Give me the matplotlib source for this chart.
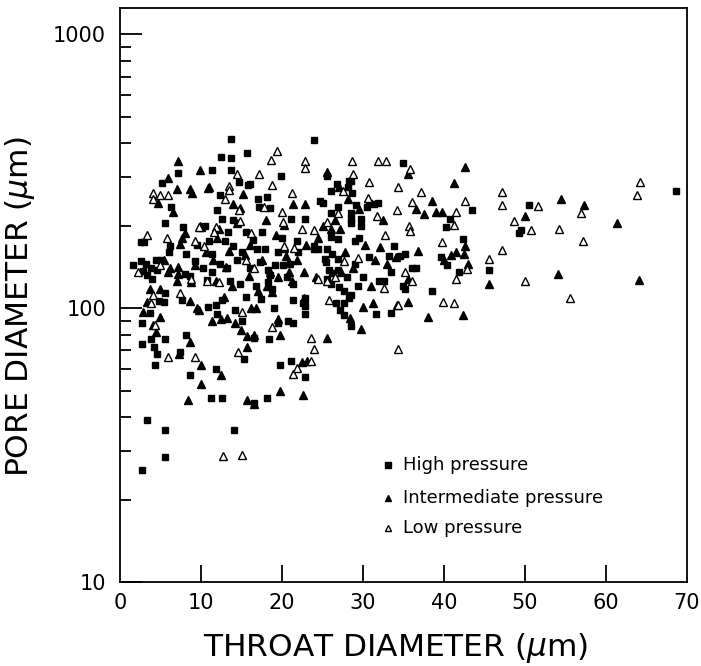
import matplotlib
matplotlib.use("Agg")
import matplotlib.pyplot as plt
from matplotlib.ticker import LogLocator, NullFormatter

# throat diameter (um) / pore diameter (um)
high_x = [2.6, 3.0, 1.6, 2.6, 3.2, 3.8, 4.5, 5.0, 3.3, 3.9, 2.9, 4.6, 3.7, 2.7, 2.7, 3.8, 4.2, 4.6,
          4.3, 5.5, 5.6, 5.4, 4.8, 3.3, 5.6, 5.5, 2.7, 5.6, 5.2, 7.1, 6.3, 7.8, 8.2, 8.0, 8.6, 7.6,
          8.2, 8.7, 7.4, 6.0, 6.2, 9.2, 9.5, 10.7, 10.2,
          11.4, 12.5, 13.7, 13.7, 13.7, 15.7, 14.7, 15.8, 12.4, 12.0, 12.6, 11.4, 11.4, 10.9, 11.8,
          12.6, 11.8, 11.2, 12.6, 14.1, 15.3, 16.5, 18.4, 18.1, 16.5, 19.7, 21.1, 21.4, 20.8, 19.5,
          22.8, 22.8, 22.8, 22.9, 21.4, 19.9, 16.0, 17.0, 18.1, 18.5, 17.1, 21.1, 22.8, 16.4, 16.9,
          17.9, 17.3, 18.3, 19.1, 20.1, 18.5, 18.3, 18.8, 21.4, 22.6, 13.0, 14.0, 14.5, 13.2,
          12.3, 13.6, 14.8, 15.5, 14.2, 15.0, 16.0, 15.5, 14.0, 13.3, 15.0, 17.5, 20.0, 19.5, 21.0,
          20.6, 22.0, 21.8, 16.8, 17.4, 19.0, 12.0, 11.0, 10.5,
          24.0, 24.7, 25.6, 26.8, 26.0, 28.3, 28.1, 28.5, 28.7, 26.9, 26.1, 28.5, 25.0, 31.9, 30.7,
          28.5, 29.8, 28.5, 29.8, 26.0, 26.9, 24.4, 23.9, 25.6, 26.2, 24.0, 25.3, 26.9, 25.4, 25.8,
          26.2, 26.9, 25.6, 26.0, 27.0, 27.6, 28.5, 28.3, 27.6, 26.7, 27.2, 27.6, 28.5, 30.5, 31.3,
          29.1, 29.0, 30.7, 31.6, 32.0, 32.6, 33.5, 33.5, 33.2, 33.8, 35.0, 34.6, 35.2, 35.0, 35.2,
          36.0, 36.6, 38.5, 39.6, 40.3, 40.7, 40.4, 41.8, 42.3, 43.4, 45.6, 49.2, 49.5, 50.5, 68.7,
          29.5, 29.0, 28.0, 30.0, 29.4]
high_y = [174, 174, 143, 148, 145, 140, 150, 150, 132, 128, 137, 138, 96, 88, 74, 77, 72, 68,
          62, 77, 113, 105, 106, 39, 36, 28.5, 25.7, 205, 285, 310, 233, 197, 157, 133, 131, 107,
          80, 57, 69, 160, 168, 148, 170, 127, 140,
          319, 355, 415, 352, 319, 368, 289, 281, 258, 228, 212, 157, 135, 101, 103,
          107, 60, 47, 47, 36, 65, 78, 77, 47, 45, 62, 64, 88, 90, 88,
          95, 56, 102, 109, 107, 303, 283, 251, 254, 231, 234, 212, 212, 177, 164,
          164, 147, 138, 143, 143, 132, 124, 117, 122, 104, 175, 168, 150, 140,
          145, 125, 122, 110, 98, 90, 140, 190, 210, 190, 160, 190, 180, 160, 145,
          130, 160, 175, 120, 108, 100, 95, 175, 200,
          412, 245, 303, 283, 267, 292, 276, 290, 263, 234, 223, 223, 241, 241, 241,
          212, 212, 205, 200, 182, 179, 164, 164, 164, 158, 168, 151, 151, 147, 138,
          134, 138, 128, 122, 119, 115, 112, 109, 104, 104, 98, 94, 86, 234, 240,
          238, 175, 153, 95, 125, 126, 135, 96, 155, 168, 337, 155, 158, 120, 117,
          140, 140, 115, 154, 197, 212, 143, 135, 178, 228, 138, 188, 193, 237, 267,
          180, 145, 130, 130, 120]

inter_x = [7.1, 5.9, 4.7, 7.0, 8.7, 8.9, 9.9, 10.9, 10.0, 7.7, 7.4, 8.0, 7.2, 7.2, 7.0, 9.3,
           8.8, 8.7, 5.9, 3.3, 3.7, 4.9, 4.9, 4.1, 4.4, 2.9, 7.3, 8.7, 10.0, 10.0, 8.4, 12.5,
           9.8, 12.5, 13.2, 14.2, 14.9, 15.7, 15.7, 16.6, 15.7, 16.6, 19.8, 19.7, 22.6, 22.5,
           23.1, 25.6, 28.4, 29.8, 30.0, 31.2, 34.2, 35.6, 38.0, 42.3, 45.6, 54.1, 64.1, 61.3,
           57.3, 54.4, 50.0, 42.6, 41.2, 35.6, 38.5, 39.0, 39.8, 40.9, 42.5, 42.6, 36.8, 32.1,
           34.1, 25.6, 27.0, 28.1, 27.2, 21.4, 22.8, 20.3, 14.8, 11.0, 9.9, 15.4, 15.9, 20.9,
           21.2, 22.7, 22.7, 19.5, 18.8, 13.1,
           12.0, 13.5, 11.5, 14.5, 16.0, 17.5, 18.0, 19.2, 20.5, 17.0, 16.2, 13.8, 12.8, 11.8,
           10.6, 12.2, 14.0, 15.2, 18.2, 19.5, 21.8, 23.0, 24.5, 25.0, 26.5, 27.8, 28.8, 30.2,
           31.5, 32.5, 29.5, 27.3, 26.0, 24.2, 31.0, 33.0, 35.5, 36.5, 37.5, 40.0, 41.5, 43.0,
           6.2, 5.4, 6.6, 9.5, 11.3, 16.8, 18.5, 20.2]
inter_y = [345, 299, 242, 272, 272, 262, 319, 275, 197, 180, 171, 188, 141, 133, 126, 143,
           124, 106, 135, 105, 117, 117, 93, 87, 82, 97, 68, 75, 62, 53, 46, 57,
           98, 91, 92, 88, 83, 79, 72, 80, 46, 44.5, 50, 80, 48, 63.8,
           64, 78, 92, 84, 101, 104, 103, 105, 93, 94, 122, 133, 127, 204,
           237, 249, 216, 327, 287, 308, 246, 224, 224, 156, 157, 169, 162, 167,
           154, 314, 277, 249, 194, 240, 240, 201, 231, 276, 200, 156, 131, 135,
           126, 135, 109, 91, 114, 141,
           180, 162, 150, 205, 170, 150, 210, 185, 155, 115, 100, 120, 110, 125,
           160, 195, 240, 260, 120, 130, 150, 170, 180, 200, 210, 160, 140, 170,
           150, 210, 230, 135, 195, 130, 120, 145, 128, 230, 220, 150, 160, 145,
           140, 150, 225, 100, 90, 100, 135, 165]

low_x = [4.1, 4.1, 4.9, 5.9, 4.9, 5.8, 3.8, 4.3, 5.9, 7.4, 9.3, 8.8, 9.3, 10.4, 10.8, 11.9,
         12.2, 12.7, 15.0, 13.4, 14.4, 14.7, 14.8, 14.6, 15.0, 17.2, 18.7, 19.4, 18.8, 20.0,
         20.1, 20.2, 21.2, 21.5, 21.4, 21.8, 18.8, 22.8, 22.8, 23.6, 23.9, 23.6, 24.0, 25.6,
         25.8, 25.6, 27.5, 28.7, 28.8, 30.8, 30.6, 31.7, 32.7, 31.9, 32.9, 34.3, 35.8, 36.0,
         35.7, 35.8, 37.1, 34.2, 32.6, 34.3, 34.3, 35.2, 36.0, 39.8, 39.9, 41.2, 41.5, 41.2,
         41.5, 42.6, 42.9, 45.6, 47.1, 47.2, 47.1, 48.6, 50.0, 50.7, 51.6, 54.2, 55.6, 56.9,
         57.2, 63.8, 64.2, 27.7, 26.9, 2.2, 3.3, 4.1, 9.8, 11.6, 15.5, 16.5, 17.8, 22.5, 24.4,
         26.5, 29.4, 13.0, 13.5, 16.2]
low_y = [262, 249, 258, 258, 143, 180, 104, 87, 66, 113, 66, 128, 175, 168, 126, 197,
         124, 28.8, 29, 279, 308, 227, 208, 69, 97, 308, 348, 375, 282, 225,
         206, 168, 262, 165, 57.5, 60.5, 85, 345, 325, 78, 71, 64, 192, 206,
         107, 125, 268, 345, 308, 289, 253, 217, 184, 345, 345, 276, 321, 244,
         200, 191, 265, 228, 118, 103, 71, 135, 126, 174, 105, 104, 128, 201,
         224, 246, 139, 151, 265, 237, 163, 208, 125, 193, 236, 194, 109, 223,
         176, 258, 289, 148, 223, 135, 185, 112, 198, 190, 150, 140, 233, 195, 128,
         130, 152, 250, 270, 188]

LABELS = ["High pressure", "Intermediate pressure", "Low pressure"]

plt.rcParams['font.family'] = 'DejaVu Sans'
fig = plt.figure(figsize=(7.01, 6.66), dpi=100)
ax = fig.add_axes([0.1712, 0.1261, 0.8088, 0.8619])

ax.plot(high_x, high_y, ls='none', marker='s', ms=5, color='black')
ax.plot(inter_x, inter_y, ls='none', marker='^', ms=5.5, color='black')
ax.plot(low_x, low_y, ls='none', marker='^', ms=5.5, mfc='white', mec='black', mew=1.0)

ax.set_yscale('log')
ax.set_xlim(0, 70)
ax.set_ylim(10, 1245)
ax.set_xticks([0, 10, 20, 30, 40, 50, 60, 70])
ax.tick_params(axis='x', direction='in', length=12, width=1.3, labelsize=15, pad=8)
# no tick marks at the two ends of the x axis
for t in ax.xaxis.get_major_ticks()[::7]:
    t.tick1line.set_visible(False)
ax.yaxis.set_minor_locator(LogLocator(base=10, subs=range(2, 10), numticks=20))
ax.yaxis.set_minor_formatter(NullFormatter())
ax.set_yticks([10, 100, 1000])
ax.set_yticklabels(['10', '100', '1000'])
ax.tick_params(axis='y', which='major', direction='in', length=16, width=1.3, labelsize=15, pad=10)
ax.tick_params(axis='y', which='minor', direction='in', length=8, width=1.3)
ax.tick_params(top=False, right=False, which='both')
for s in ax.spines.values():
    s.set_linewidth(1.3)

# legend, drawn by hand
leg_y = [0.204, 0.146, 0.094]
ax.plot([0.473], [leg_y[0]], transform=ax.transAxes, marker='s', ms=4.5, color='black', ls='none')
ax.plot([0.473], [leg_y[1]], transform=ax.transAxes, marker='^', ms=4.5, color='black', ls='none')
ax.plot([0.473], [leg_y[2]], transform=ax.transAxes, marker='^', ms=4.5, mfc='white', mec='black', ls='none')
for yy, lab in zip(leg_y, LABELS):
    ax.text(0.499, yy, lab, transform=ax.transAxes, fontsize=13, va='center', ha='left')

fig.text(0.565, 0.027, 'THROAT DIAMETER ($\\mu$m)', fontsize=22.5, ha='center', va='center')
fig.text(0.029, 0.539, 'PORE DIAMETER ($\\mu$m)', fontsize=22.5, ha='center', va='center', rotation=90)

fig.savefig('out.png', dpi=100)
